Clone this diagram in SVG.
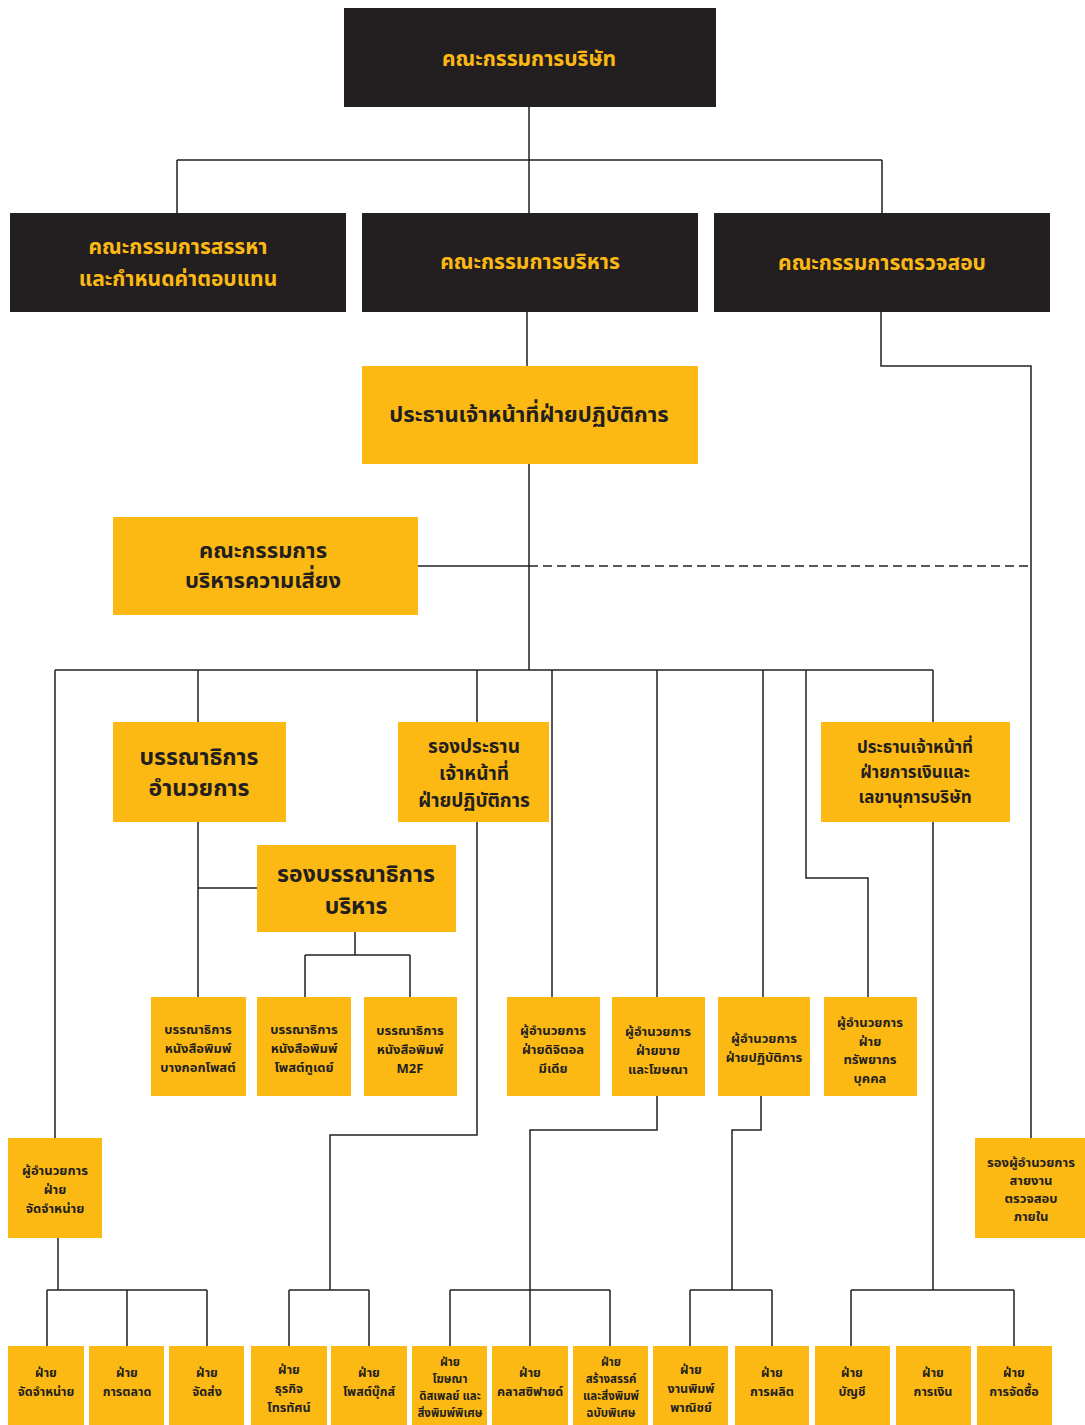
<svg xmlns="http://www.w3.org/2000/svg" width="1085" height="1425" viewBox="0 0 1085 1425">
<style>
.dk{fill:#231f20}
.yl{fill:#fdb913}
text{font-family:"Noto Sans Thai","Noto Sans","DejaVu Sans","Liberation Sans",sans-serif;text-anchor:middle;font-weight:bold}
.ty{fill:#fdb913;font-size:21px}
.td{fill:#231f20}
.t22{font-size:22px}
.t24{font-size:23px}
.t20{font-size:19px}
.t18{font-size:17px}
.t15{font-size:13px}
.t13{font-size:12.5px}
.t12{font-size:11.5px}
.ln{fill:none;stroke:#231f20;stroke-width:1.5}
.ds{fill:none;stroke:#231f20;stroke-width:1.5;stroke-dasharray:9,5}
</style>
<rect width="1085" height="1425" fill="#ffffff"/>
<g id="connectors">
<path class="ln" d="M529 107V160M177 160H882M177 160V213M529 160V213M882 160V213"/>
<path class="ln" d="M527 312V366M881 312V366H1031V1138"/>
<path class="ln" d="M529 464V670M418 566H529"/>
<path class="ds" d="M529 566H1031"/>
<path class="ln" d="M55 670H933M55 670V1138M198 670V722M477 670V722M552 670V997M657 670V997M763 670V997M806 670V878H868V997M933 670V722"/>
<path class="ln" d="M198 822V997M198 888H257M355 932V955M305 955H410M305 955V997M410 955V997"/>
<path class="ln" d="M477 822V1135H330V1290M289 1290H369M289 1290V1346M369 1290V1346"/>
<path class="ln" d="M657 1096V1130H530V1290M450 1290H610M450 1290V1346M530 1290V1346M610 1290V1346"/>
<path class="ln" d="M761 1096V1130H732V1290M690 1290H772M690 1290V1346M772 1290V1346"/>
<path class="ln" d="M933 822V1290M851 1290H1014M851 1290V1346M1014 1290V1346"/>
<path class="ln" d="M58 1238V1290M47 1290H207M47 1290V1346M127 1290V1346M207 1290V1346"/>
</g>
<g id="board"><rect class="dk" x="344" y="8" width="372" height="99"/><text class="ty" x="529" y="66">คณะกรรมการบริษัท</text></g>
<g id="nomination"><rect class="dk" x="10" y="213" width="336" height="99"/><text class="ty" x="178" y="254">คณะกรรมการสรรหา</text><text class="ty" x="178" y="286">และกำหนดค่าตอบแทน</text></g>
<g id="executive"><rect class="dk" x="362" y="213" width="336" height="99"/><text class="ty" x="530" y="269">คณะกรรมการบริหาร</text></g>
<g id="audit"><rect class="dk" x="714" y="213" width="336" height="99"/><text class="ty" x="882" y="270">คณะกรรมการตรวจสอบ</text></g>
<g id="coo"><rect class="yl" x="362" y="366" width="336" height="98"/><text class="td t22" x="529" y="422">ประธานเจ้าหน้าที่ฝ่ายปฏิบัติการ</text></g>
<g id="risk"><rect class="yl" x="113" y="517" width="305" height="98"/><text class="td t22" x="263" y="558">คณะกรรมการ</text><text class="td t22" x="263" y="588">บริหารความเสี่ยง</text></g>
<g id="editor-in-chief"><rect class="yl" x="113" y="722" width="173" height="100"/><text class="td t24" x="199" y="765">บรรณาธิการ</text><text class="td t24" x="199" y="796">อำนวยการ</text></g>
<g id="deputy-coo"><rect class="yl" x="398" y="722" width="151" height="100"/><text class="td t20" x="474" y="753">รองประธาน</text><text class="td t20" x="474" y="780">เจ้าหน้าที่</text><text class="td t20" x="474" y="807">ฝ่ายปฏิบัติการ</text></g>
<g id="cfo"><rect class="yl" x="821" y="722" width="189" height="100"/><text class="td t18" x="915" y="753">ประธานเจ้าหน้าที่</text><text class="td t18" x="915" y="778">ฝ่ายการเงินและ</text><text class="td t18" x="915" y="803">เลขานุการบริษัท</text></g>
<g id="deputy-editor"><rect class="yl" x="257" y="845" width="199" height="87"/><text class="td t24" x="356" y="882">รองบรรณาธิการ</text><text class="td t24" x="356" y="914">บริหาร</text></g>
<g id="ed-bangkokpost"><rect class="yl" x="151" y="997" width="95" height="99"/><text class="td t15" x="198" y="1034">บรรณาธิการ</text><text class="td t15" x="198" y="1053">หนังสือพิมพ์</text><text class="td t15" x="198" y="1072">บางกอกโพสต์</text></g>
<g id="ed-posttoday"><rect class="yl" x="257" y="997" width="94" height="99"/><text class="td t15" x="304" y="1034">บรรณาธิการ</text><text class="td t15" x="304" y="1053">หนังสือพิมพ์</text><text class="td t15" x="304" y="1072">โพสต์ทูเดย์</text></g>
<g id="ed-m2f"><rect class="yl" x="364" y="997" width="93" height="99"/><text class="td t15" x="410" y="1035">บรรณาธิการ</text><text class="td t15" x="410" y="1054">หนังสือพิมพ์</text><text class="td t15" x="410" y="1073">M2F</text></g>
<g id="dir-digital"><rect class="yl" x="507" y="997" width="93" height="99"/><text class="td t15" x="553" y="1035">ผู้อำนวยการ</text><text class="td t15" x="553" y="1054">ฝ่ายดิจิตอล</text><text class="td t15" x="553" y="1073">มีเดีย</text></g>
<g id="dir-sales"><rect class="yl" x="612" y="997" width="93" height="99"/><text class="td t15" x="658" y="1036">ผู้อำนวยการ</text><text class="td t15" x="658" y="1055">ฝ่ายขาย</text><text class="td t15" x="658" y="1074">และโฆษณา</text></g>
<g id="dir-operations"><rect class="yl" x="718" y="997" width="92" height="99"/><text class="td t15" x="764" y="1043">ผู้อำนวยการ</text><text class="td t15" x="764" y="1062">ฝ่ายปฏิบัติการ</text></g>
<g id="dir-hr"><rect class="yl" x="824" y="997" width="93" height="99"/><text class="td t15" x="870" y="1027">ผู้อำนวยการ</text><text class="td t15" x="870" y="1046">ฝ่าย</text><text class="td t15" x="870" y="1064">ทรัพยากร</text><text class="td t15" x="870" y="1083">บุคคล</text></g>
<g id="dir-circulation"><rect class="yl" x="8" y="1138" width="94" height="100"/><text class="td t15" x="55" y="1175">ผู้อำนวยการ</text><text class="td t15" x="55" y="1194">ฝ่าย</text><text class="td t15" x="55" y="1213">จัดจำหน่าย</text></g>
<g id="internal-audit"><rect class="yl" x="975" y="1138" width="110" height="100"/><text class="td t15" x="1031" y="1167">รองผู้อำนวยการ</text><text class="td t15" x="1031" y="1185">สายงาน</text><text class="td t15" x="1031" y="1203">ตรวจสอบ</text><text class="td t15" x="1031" y="1221">ภายใน</text></g>
<g id="div-circulation"><rect class="yl" x="8" y="1346" width="76" height="79"/><text class="td t13" x="46" y="1377">ฝ่าย</text><text class="td t13" x="46" y="1396">จัดจำหน่าย</text></g>
<g id="div-marketing"><rect class="yl" x="89" y="1346" width="75" height="79"/><text class="td t13" x="127" y="1377">ฝ่าย</text><text class="td t13" x="127" y="1396">การตลาด</text></g>
<g id="div-delivery"><rect class="yl" x="169" y="1346" width="75" height="79"/><text class="td t13" x="207" y="1377">ฝ่าย</text><text class="td t13" x="207" y="1396">จัดส่ง</text></g>
<g id="div-tv"><rect class="yl" x="251" y="1346" width="76" height="79"/><text class="td t13" x="289" y="1374">ฝ่าย</text><text class="td t13" x="289" y="1393">ธุรกิจ</text><text class="td t13" x="289" y="1412">โทรทัศน์</text></g>
<g id="div-postbooks"><rect class="yl" x="331" y="1346" width="76" height="79"/><text class="td t13" x="369" y="1377">ฝ่าย</text><text class="td t13" x="369" y="1396">โพสต์บุ๊กส์</text></g>
<g id="div-display"><rect class="yl" x="412" y="1346" width="75" height="79"/><text class="td t12" x="450" y="1366">ฝ่าย</text><text class="td t12" x="450" y="1383">โฆษณา</text><text class="td t12" x="450" y="1400">ดิสเพลย์ และ</text><text class="td t12" x="450" y="1417">สิ่งพิมพ์พิเศษ</text></g>
<g id="div-classified"><rect class="yl" x="492" y="1346" width="76" height="79"/><text class="td t13" x="530" y="1377">ฝ่าย</text><text class="td t13" x="530" y="1396">คลาสซิฟายด์</text></g>
<g id="div-creative"><rect class="yl" x="573" y="1346" width="75" height="79"/><text class="td t12" x="611" y="1366">ฝ่าย</text><text class="td t12" x="611" y="1383">สร้างสรรค์</text><text class="td t12" x="611" y="1400">และสิ่งพิมพ์</text><text class="td t12" x="611" y="1417">ฉบับพิเศษ</text></g>
<g id="div-commercial-print"><rect class="yl" x="653" y="1346" width="75" height="79"/><text class="td t13" x="691" y="1374">ฝ่าย</text><text class="td t13" x="691" y="1393">งานพิมพ์</text><text class="td t13" x="691" y="1412">พาณิชย์</text></g>
<g id="div-production"><rect class="yl" x="735" y="1346" width="74" height="79"/><text class="td t13" x="772" y="1377">ฝ่าย</text><text class="td t13" x="772" y="1396">การผลิต</text></g>
<g id="div-accounting"><rect class="yl" x="815" y="1346" width="75" height="79"/><text class="td t13" x="852" y="1377">ฝ่าย</text><text class="td t13" x="852" y="1396">บัญชี</text></g>
<g id="div-finance"><rect class="yl" x="896" y="1346" width="75" height="79"/><text class="td t13" x="933" y="1377">ฝ่าย</text><text class="td t13" x="933" y="1396">การเงิน</text></g>
<g id="div-purchasing"><rect class="yl" x="977" y="1346" width="75" height="79"/><text class="td t13" x="1014" y="1377">ฝ่าย</text><text class="td t13" x="1014" y="1396">การจัดซื้อ</text></g>
</svg>
